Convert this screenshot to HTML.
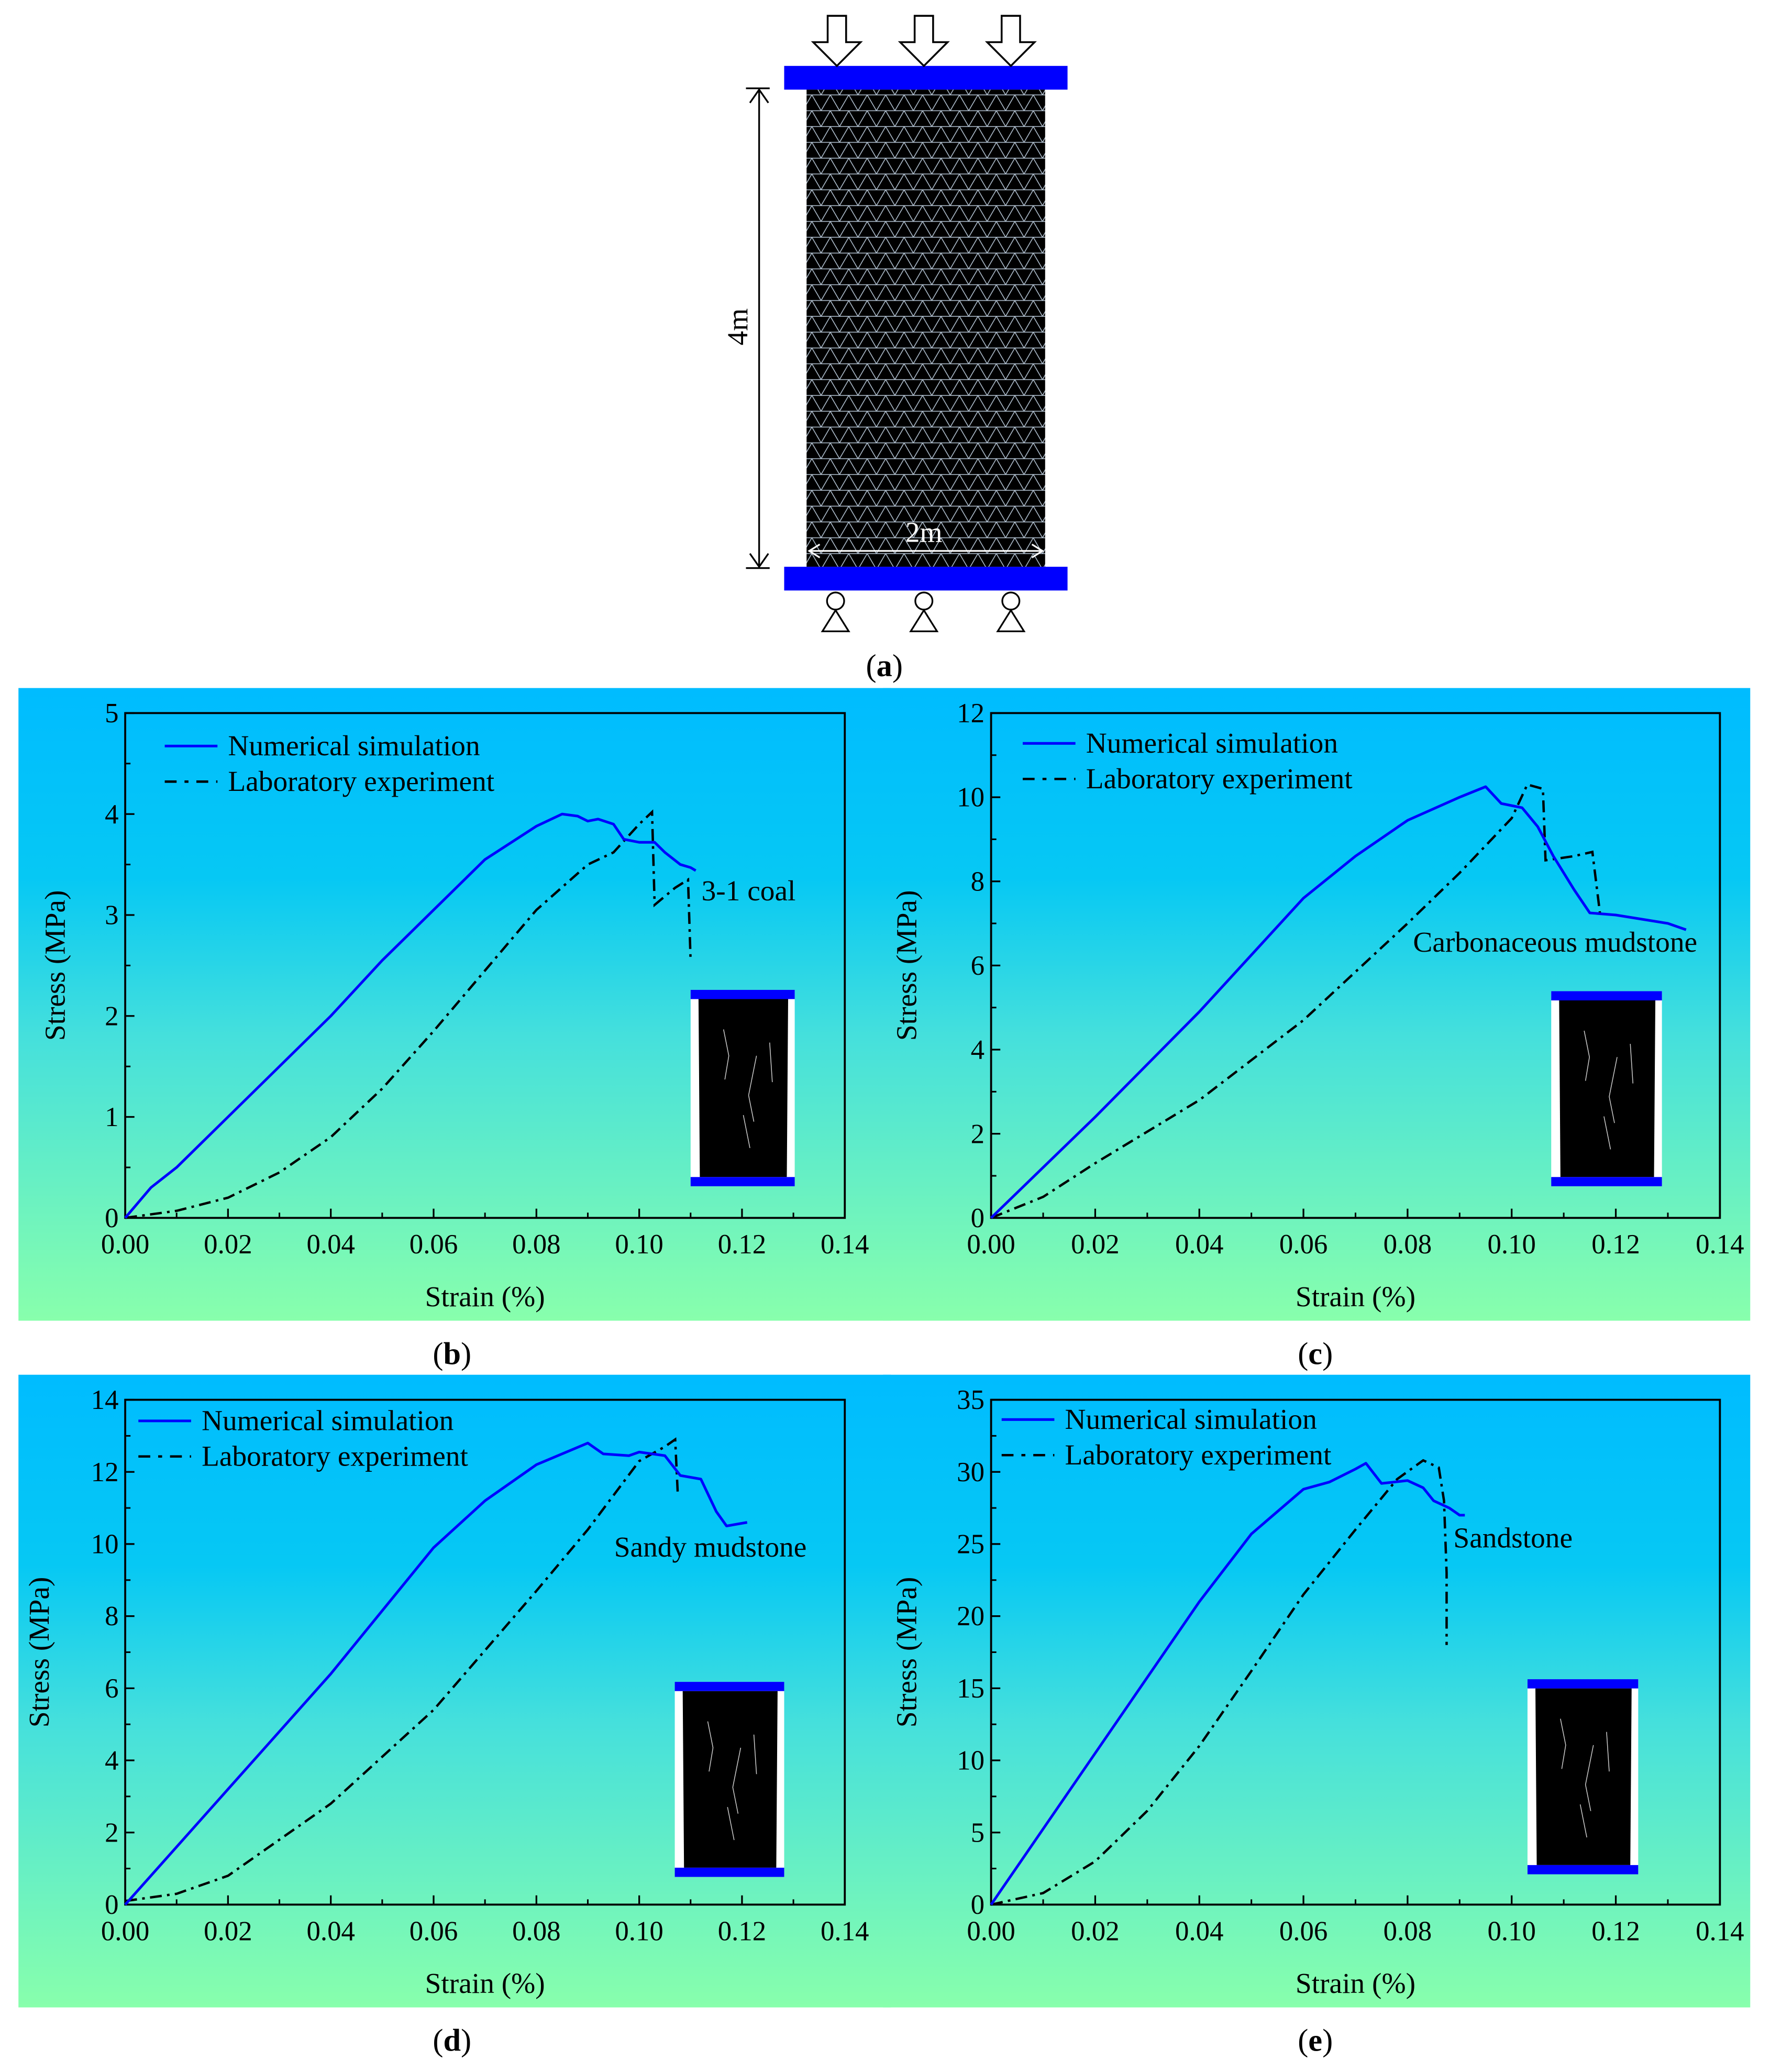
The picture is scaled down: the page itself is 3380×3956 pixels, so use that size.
<!DOCTYPE html>
<html><head><meta charset="utf-8"><style>
html,body{margin:0;padding:0;background:#fff}
svg{display:block}
text{font-family:"Liberation Serif","Times New Roman",serif;fill:#000}
</style></head><body>
<svg id="fig" width="3380" height="3956" viewBox="0 0 1343 1572" preserveAspectRatio="none" xmlns="http://www.w3.org/2000/svg" font-family="Liberation Serif, serif">
<defs>
<linearGradient id="bg" x1="0" y1="0" x2="0" y2="1">
<stop offset="0" stop-color="#00bcff"/><stop offset="0.3" stop-color="#06c8f4"/><stop offset="0.55" stop-color="#45e0dc"/><stop offset="1" stop-color="#88ffac"/>
</linearGradient>
<pattern id="mesh" width="14" height="12" patternUnits="userSpaceOnUse">
<rect width="14" height="12" fill="#000"/>
<path d="M0 0 L14 0 M0 0 L7 12 L14 0 M0 12 L14 12" stroke="#b8c8d8" stroke-width="0.6" fill="none"/>
</pattern>
</defs>
<g id="panel-a">
<rect x="595" y="50" width="215" height="18" fill="#0000ff"/>
<rect x="612" y="68" width="181" height="362" fill="url(#mesh)"/>
<rect x="595" y="430" width="215" height="18" fill="#0000ff"/>
<g id="arrows"></g>
<g id="supports"></g>
<g stroke="#000" stroke-width="1.3" fill="none">
<line x1="576" y1="68" x2="576" y2="430"/><line x1="566" y1="67" x2="584" y2="67"/><line x1="566" y1="431" x2="584" y2="431"/>
<path d="M569 78 L576 68 L583 78 M569 420 L576 430 L583 420"/>
</g>
<text x="562" y="248" font-size="22" text-anchor="middle" transform="rotate(-90 562 248)" dominant-baseline="middle">4m</text>
<g stroke="#fff" stroke-width="1.3" fill="none">
<line x1="614" y1="418" x2="791" y2="418"/><path d="M622 413 L614 418 L622 423 M783 413 L791 418 L783 423"/>
</g>
<text x="701" y="411" font-size="22" text-anchor="middle" style="fill:#fff">2m</text>
<text x="671" y="513" font-size="24" text-anchor="middle">(<tspan font-weight="bold">a</tspan>)</text>
</g>
<g id="charts"></g>
</svg>
<script>
const NS="http://www.w3.org/2000/svg";
function mk(tag,attrs,parent){const e=document.createElementNS(NS,tag);for(const k in attrs)e.setAttribute(k,attrs[k]);parent.appendChild(e);return e;}
const arrowG=document.getElementById('arrows');
[635,701,767].forEach(cx=>{
  const p=mk('path',{d:`M${cx-7} 12 L${cx+7} 12 L${cx+7} 32 L${cx+18} 32 L${cx} 50 L${cx-18} 32 L${cx-7} 32 Z`,fill:'#fff',stroke:'#000','stroke-width':1.4},arrowG);
  
  
});
const supG=document.getElementById('supports');
[634,701,767].forEach(cx=>{
  const c=mk('circle',{cx:cx,cy:456,r:6.5,fill:'#fff',stroke:'#000','stroke-width':1.3},supG);
  
  
  const t=mk('path',{d:`M${cx} 463 L${cx+10} 479 L${cx-10} 479 Z`,fill:'#fff',stroke:'#000','stroke-width':1.3},supG);
  
  
});

// ---- chart data ----
const xTicks=[0,0.02,0.04,0.06,0.08,0.10,0.12,0.14];
const xTickLabels=["0.00","0.02","0.04","0.06","0.08","0.10","0.12","0.14"];
const bSimX=[0,0.005,0.01,0.02,0.03,0.04,0.05,0.06,0.07,0.08,0.085,0.088,0.09,0.092,0.095,0.097,0.1,0.103,0.105,0.108,0.11,0.111];
const bSimY=[0,0.3,0.5,1.0,1.5,2.0,2.55,3.05,3.55,3.88,4.0,3.98,3.93,3.95,3.9,3.75,3.72,3.72,3.62,3.5,3.47,3.44];
const bLabX=[0,0.01,0.02,0.03,0.04,0.05,0.06,0.07,0.08,0.09,0.095,0.1,0.1025,0.103,0.107,0.1095,0.11];
const bLabY=[0,0.07,0.2,0.45,0.8,1.28,1.85,2.45,3.05,3.5,3.62,3.9,4.02,3.1,3.27,3.35,2.55];
const bYTicks=[0,1,2,3,4,5];
const cSimX=[0,0.02,0.04,0.06,0.07,0.08,0.09,0.095,0.098,0.1,0.102,0.105,0.108,0.112,0.115,0.12,0.125,0.13,0.1335];
const cSimY=[0,2.4,4.9,7.6,8.6,9.45,10.0,10.25,9.85,9.8,9.75,9.3,8.6,7.8,7.25,7.2,7.1,7.0,6.85];
const cLabX=[0,0.01,0.02,0.04,0.06,0.08,0.09,0.1,0.103,0.106,0.1065,0.112,0.1155,0.117];
const cLabY=[0,0.5,1.3,2.8,4.7,7.0,8.2,9.5,10.3,10.2,8.5,8.6,8.7,7.2];
const cYTicks=[0,2,4,6,8,10,12];
const dSimX=[0,0.02,0.04,0.06,0.07,0.08,0.085,0.09,0.093,0.098,0.1,0.105,0.108,0.112,0.115,0.117,0.121];
const dSimY=[0,3.2,6.4,9.9,11.2,12.2,12.5,12.8,12.5,12.45,12.55,12.45,11.9,11.8,10.9,10.5,10.6];
const dLabX=[0,0.01,0.02,0.04,0.06,0.08,0.09,0.1,0.105,0.107,0.1075];
const dLabY=[0.1,0.3,0.8,2.8,5.4,8.7,10.4,12.3,12.7,12.9,11.4];
const dYTicks=[0,2,4,6,8,10,12,14];
const eSimX=[0,0.02,0.04,0.05,0.06,0.065,0.07,0.072,0.075,0.08,0.083,0.085,0.088,0.09,0.091];
const eSimY=[0,10.5,21,25.7,28.8,29.3,30.2,30.6,29.2,29.4,28.9,28.0,27.5,27.0,27.0];
const eLabX=[0,0.01,0.02,0.03,0.04,0.05,0.06,0.07,0.078,0.083,0.086,0.087,0.0875,0.0875];
const eLabY=[0,0.8,3.0,6.5,11,16.2,21.5,26,29.5,30.8,30.3,28,23,18];
const eYTicks=[0,5,10,15,20,25,30,35];

const panels=[
 {id:'b',bg:[14,522,662,480],px:[95,641],py:[541,924],ymax:5,yt:bYTicks,sx:bSimX,sy:bSimY,lx:bLabX,ly:bLabY,leg:[125,566],ytx:44,note:"3-1 coal",nx:568,ny:683,ins:[524,751,79,149],cap:[343,1035]},
 {id:'c',bg:[670,522,658,480],px:[752,1305],py:[541,924],ymax:12,yt:cYTicks,sx:cSimX,sy:cSimY,lx:cLabX,ly:cLabY,leg:[776,564],ytx:690,note:"Carbonaceous mudstone",nx:1180,ny:722,ins:[1177,752,84,148],cap:[998,1035]},
 {id:'d',bg:[14,1043,662,480],px:[95,641],py:[1062,1445],ymax:14,yt:dYTicks,sx:dSimX,sy:dSimY,lx:dLabX,ly:dLabY,leg:[105,1078],ytx:32,note:"Sandy mudstone",nx:539,ny:1181,ins:[512,1276,83,148],cap:[343,1556]},
 {id:'e',bg:[670,1043,658,480],px:[752,1305],py:[1062,1445],ymax:35,yt:eYTicks,sx:eSimX,sy:eSimY,lx:eLabX,ly:eLabY,leg:[760,1077],ytx:690,note:"Sandstone",nx:1148,ny:1174,ins:[1159,1274,84,148],cap:[998,1556]}
];
const root=document.getElementById('charts');
panels.forEach(P=>{
  const g=mk('g',{},root);
  
  
  const bg=mk('rect',{x:P.bg[0],y:P.bg[1],width:P.bg[2],height:P.bg[3],fill:'url(#bg)'},g);
  
  
  const X=v=>P.px[0]+v/0.14*(P.px[1]-P.px[0]);
  const Y=v=>P.py[1]-v/P.ymax*(P.py[1]-P.py[0]);
  const fr=mk('rect',{x:P.px[0],y:P.py[0],width:P.px[1]-P.px[0],height:P.py[1]-P.py[0],fill:'none',stroke:'#000','stroke-width':1.5},g);
  
  
  xTicks.forEach((t,i)=>{
    const l=mk('line',{x1:X(t),x2:X(t),y1:P.py[1],y2:P.py[1]-7,stroke:'#000','stroke-width':1.3},g);
    
    
    if(i<xTicks.length-1){const m=mk('line',{x1:X(t+0.01),x2:X(t+0.01),y1:P.py[1],y2:P.py[1]-4,stroke:'#000','stroke-width':1.2},g);
      
      }
    const tx=mk('text',{x:X(t),y:P.py[1]+27,'font-size':21,'text-anchor':'middle'},g);tx.textContent=xTickLabels[i];
    
    
  });
  const step=P.yt[1]-P.yt[0];
  P.yt.forEach((t,i)=>{
    const l=mk('line',{x1:P.px[0],x2:P.px[0]+7,y1:Y(t),y2:Y(t),stroke:'#000','stroke-width':1.3},g);
    
    
    if(i<P.yt.length-1){const m=mk('line',{x1:P.px[0],x2:P.px[0]+4,y1:Y(t+step/2),y2:Y(t+step/2),stroke:'#000','stroke-width':1.2},g);
      
      }
    const tx=mk('text',{x:P.px[0]-5,y:Y(t)+7,'font-size':21,'text-anchor':'end'},g);tx.textContent=String(t);
    
    
  });
  const xt=mk('text',{x:(P.px[0]+P.px[1])/2,y:P.py[1]+67,'font-size':22,'text-anchor':'middle'},g);xt.textContent='Strain (%)';
  
  
  const ym=(P.py[0]+P.py[1])/2;
  const yt=mk('text',{x:P.ytx,y:ym,'font-size':22,'text-anchor':'middle',transform:`rotate(-90 ${P.ytx} ${ym})`,'dominant-baseline':'middle'},g);yt.textContent='Stress (MPa)';
  
  
  const [ix,iy,iw,ih]=P.ins;
  const ig=mk('g',{},g);
  
  
  mk('rect',{x:ix,y:iy,width:iw,height:ih,fill:'#fff'},ig);
  mk('path',{d:`M${ix+6} ${iy+7} L${ix+iw-5} ${iy+7} L${ix+iw-6} ${iy+ih-7} L${ix+7} ${iy+ih-7} Z`,fill:'#000'},ig);
  mk('path',{d:`M${ix+25} ${iy+30} l4 20 l-3 18 M${ix+50} ${iy+50} l-6 30 l4 20 M${ix+40} ${iy+95} l5 25 M${ix+60} ${iy+40} l2 30`,stroke:'#ccc','stroke-width':0.6,fill:'none'},ig);
  mk('rect',{x:ix,y:iy,width:iw,height:7,fill:'#0000ff'},ig);
  mk('rect',{x:ix,y:iy+ih-7,width:iw,height:7,fill:'#0000ff'},ig);
  const lab=mk('polyline',{points:P.lx.map((v,i)=>X(v)+','+Y(P.ly[i])).join(' '),fill:'none',stroke:'#000','stroke-width':1.8,'stroke-dasharray':'9 4 2 4'},g);
  
  
  const sim=mk('polyline',{points:P.sx.map((v,i)=>X(v)+','+Y(P.sy[i])).join(' '),fill:'none',stroke:'#0000ff','stroke-width':2,'stroke-linejoin':'round'},g);
  
  
  const [lx,ly]=P.leg;
  const lg=mk('g',{},g);
  
  
  mk('line',{x1:lx,x2:lx+40,y1:ly,y2:ly,stroke:'#0000ff','stroke-width':2},lg);
  const t1=mk('text',{x:lx+48,y:ly+7,'font-size':22},lg);t1.textContent='Numerical simulation';
  
  
  mk('line',{x1:lx,x2:lx+40,y1:ly+27,y2:ly+27,stroke:'#000','stroke-width':1.8,'stroke-dasharray':'9 6 3 6'},lg);
  const t2=mk('text',{x:lx+48,y:ly+34,'font-size':22},lg);t2.textContent='Laboratory experiment';
  
  
  const nt=mk('text',{x:P.nx,y:P.ny,'font-size':22,'text-anchor':'middle'},g);nt.textContent=P.note;
  
  
  const cap=mk('text',{x:P.cap[0],y:P.cap[1],'font-size':24,'text-anchor':'middle'},root);
  cap.innerHTML='(<tspan font-weight="bold">'+P.id+'</tspan>)';
  
  
});
</script>
</body></html>
